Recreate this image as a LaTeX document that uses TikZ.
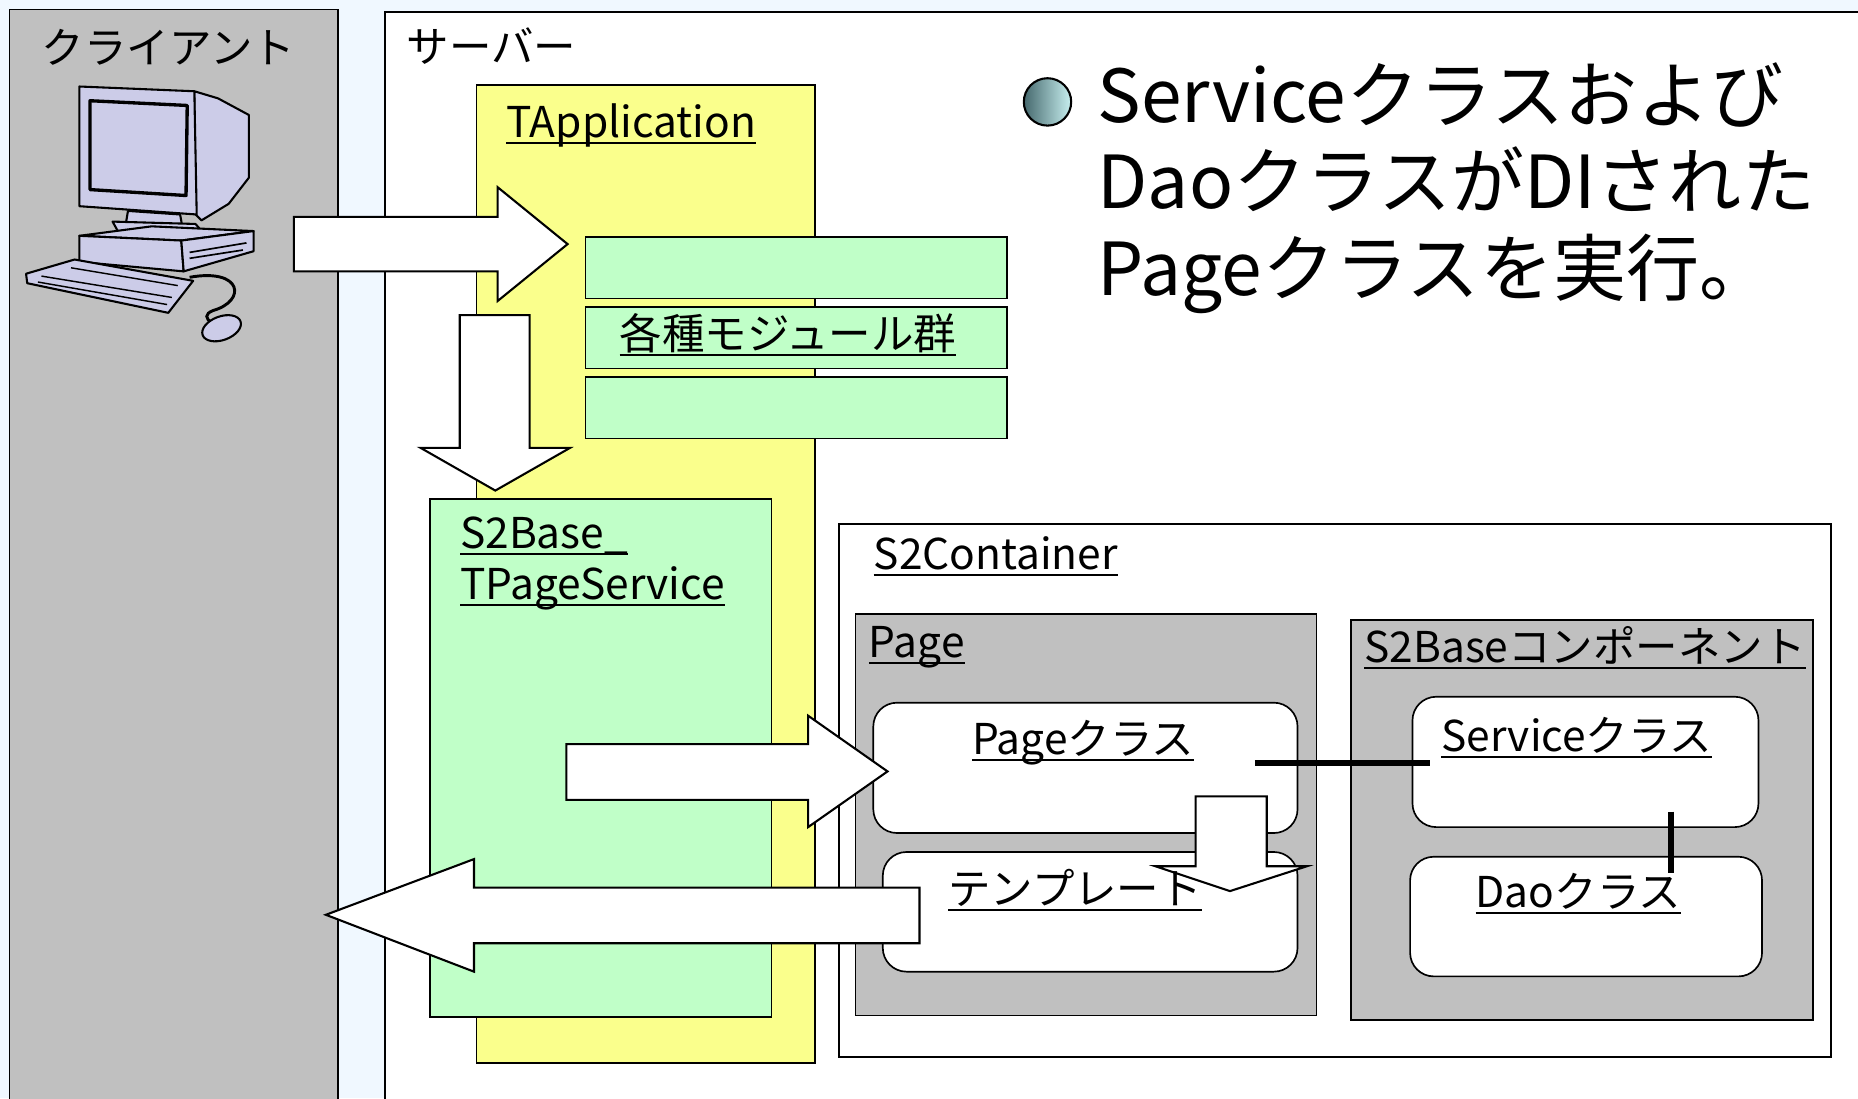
\documentclass[tikz,border=0pt]{standalone}
\usepackage{fontspec}
\setmainfont{Noto Sans CJK JP}
\definecolor{bgblue}{RGB}{240,248,255}
\definecolor{boxgray}{RGB}{192,192,192}
\definecolor{appyellow}{RGB}{250,255,140}
\definecolor{modgreen}{RGB}{192,255,200}
\definecolor{pclav}{RGB}{204,204,232}
\definecolor{bulletdark}{RGB}{70,105,110}
\definecolor{bulletlight}{RGB}{200,240,240}
\newcommand{\ulx}[1]{\setbox0=\hbox{#1}\rlap{\rule[-0.15em]{\wd0}{0.9pt}}\box0}
\newcommand{\areabox}[6]{\node[#6, anchor=north west, minimum width={(#4-#2)*0.02cm}, minimum height={(#5-#3)*0.02cm}] (#1) at (#2,#3) {};}
\begin{document}
\begin{tikzpicture}[x=0.02cm, y=-0.02cm,
  plainbox/.style={draw=black, line width=0.8pt, inner sep=0pt, outer sep=0pt, rectangle},
  roundbox/.style={plainbox, fill=white, rounded corners=0.4cm},
  blockarrow/.style={draw=black, fill=white, line width=1pt, line join=miter},
  link/.style={draw=black, line width=2.7pt},
  lbl/.style={font=\fontsize{20.4}{24}\selectfont, inner sep=0pt, anchor=base west},
  big/.style={font=\fontsize{35.1}{42}\selectfont, inner sep=0pt, anchor=base west},
  pcpart/.style={draw=black, fill=pclav, line width=1pt, line join=round}]
\useasboundingbox (0,0) rectangle (1568,927);
\clip (0,0) rectangle (1568,927);
\fill[bgblue] (0,0) rectangle (1568,927);
% client and server areas
\areabox{client}{8}{8}{285}{945}{plainbox, fill=boxgray}
\areabox{server}{325}{10}{1590}{945}{plainbox, fill=white}
% computer icon
\draw[pcpart] (164,77) -- (184,83) -- (210,97) -- (210,150) -- (193,172) -- (170,186) -- (164,180) -- cycle;
\draw[pcpart] (67,73) -- (164,77) -- (166,181) -- (67,174) -- cycle;
\draw[pcpart, line width=1.6pt] (76,85) -- (158,89) -- (157,165) -- (76,160) -- cycle;
\draw[pcpart] (108,178) -- (152,181) -- (154,192) -- (106,190) -- cycle;
\draw[pcpart] (95,187) -- (165,189) -- (172,197) -- (100,196) -- cycle;
\draw[pcpart] (67,199) -- (128,191) -- (214,195) -- (153,203) -- cycle;
\draw[pcpart] (67,199) -- (153,203) -- (155,229) -- (67,221) -- cycle;
\draw[pcpart] (153,203) -- (214,195) -- (214,212) -- (155,229) -- cycle;
\draw[black, line width=0.8pt] (160,213) -- (208,205) (160,218) -- (205,211);
\draw[black, line width=1.4pt] (160,234) .. controls (205,226) and (208,254) .. (180,262) .. controls (172,265) and (174,269) .. (178,272);
\draw[pcpart] (22,231) -- (63,219) -- (163,237) -- (142,264) -- (23,239) -- cycle;
\draw[black, line width=0.7pt] (35,233) -- (145,251) (32,238) -- (141,257) (60,226) -- (150,241);
\draw[pcpart, rotate around={20:(187,277)}] (187,277) ellipse [x radius=17, y radius=10];
% server contents
\areabox{tapplication}{402}{72}{688}{897}{plainbox, fill=appyellow}
\areabox{mod1}{494}{200}{850}{252}{plainbox, fill=modgreen}
\areabox{mod2}{494}{259}{850}{311}{plainbox, fill=modgreen}
\areabox{mod3}{494}{318}{850}{370}{plainbox, fill=modgreen}
\areabox{pageservice}{363}{421}{651}{858}{plainbox, fill=modgreen}
\areabox{container}{708}{442}{1545}{892}{plainbox, fill=white}
\areabox{pagegroup}{722}{518}{1111}{857}{plainbox, fill=boxgray}
\areabox{compgroup}{1140}{523}{1530}{861}{plainbox, fill=boxgray}
\areabox{pageclass}{737}{593}{1095}{703}{roundbox}
\areabox{template}{745}{719}{1095}{820}{roundbox}
\areabox{serviceclass}{1192}{588}{1484}{698}{roundbox}
\areabox{daoclass}{1190}{723}{1487}{824}{roundbox}
% links
\coordinate (pl) at (1059,644);
\coordinate (sl) at (1207,644);
\draw[link] (pl) -- (sl);
\coordinate (sv) at (1410,685);
\coordinate (dv) at (1410,737);
\draw[link] (sv) -- (dv);
% block arrows
\draw[blockarrow] (248,183) -- (420,183) -- (420,158) -- (479,206) -- (420,254) -- (420,229) -- (248,229) -- cycle;
\draw[blockarrow] (388,266) -- (447,266) -- (447,378) -- (481,378) -- (418,414) -- (355,378) -- (388,378) -- cycle;
\draw[blockarrow] (478,628) -- (682,628) -- (682,604) -- (749,651) -- (682,698) -- (682,675) -- (478,675) -- cycle;
\draw[blockarrow] (1009,672) -- (1069,672) -- (1069,731) -- (1103,731) -- (1038,752) -- (975,731) -- (1009,731) -- cycle;
\draw[blockarrow] (776,749) -- (400,749) -- (400,725) -- (275,772) -- (400,820) -- (400,796) -- (776,796) -- cycle;
% labels
\node[lbl] (tclient) at (35,54) {クライアント};
\node[lbl] (tserver) at (343,53) {サーバー};
\node[lbl] (tapp) at (427,116) {\ulx{TApplication}};
\node[lbl, anchor=base] (tmod) at (665,295) {\ulx{各種モジュール群}};
\node[lbl] (ts2b1) at (388,463) {\ulx{S2Base\_}};
\node[lbl] (ts2b2) at (388,506) {\ulx{TPageService}};
\node[lbl] (tcont) at (737,481) {\ulx{S2Container}};
\node[lbl] (tpage) at (733,555) {\ulx{Page}};
\node[lbl] (tcomp) at (1151,559) {\ulx{S2Baseコンポーネント}};
\node[lbl] (tpagec) at (820,637) {\ulx{Pageクラス}};
\node[lbl] (ttmpl) at (800,763) {\ulx{テンプレート}};
\node[lbl] (tserv) at (1216,634) {\ulx{Serviceクラス}};
\node[lbl] (tdao) at (1245,766) {\ulx{Daoクラス}};
% bullet text
\node[circle, draw=black, line width=1pt, inner sep=0pt, minimum size=0.8cm, left color=bulletdark, right color=bulletlight] (bullet) at (884,86) {};
\node[big] (b1) at (926,103) {Serviceクラスおよび};
\node[big] (b2) at (926,176) {DaoクラスがDIされた};
\node[big] (b3) at (926,249) {Pageクラスを実行。};
\end{tikzpicture}
\end{document}
